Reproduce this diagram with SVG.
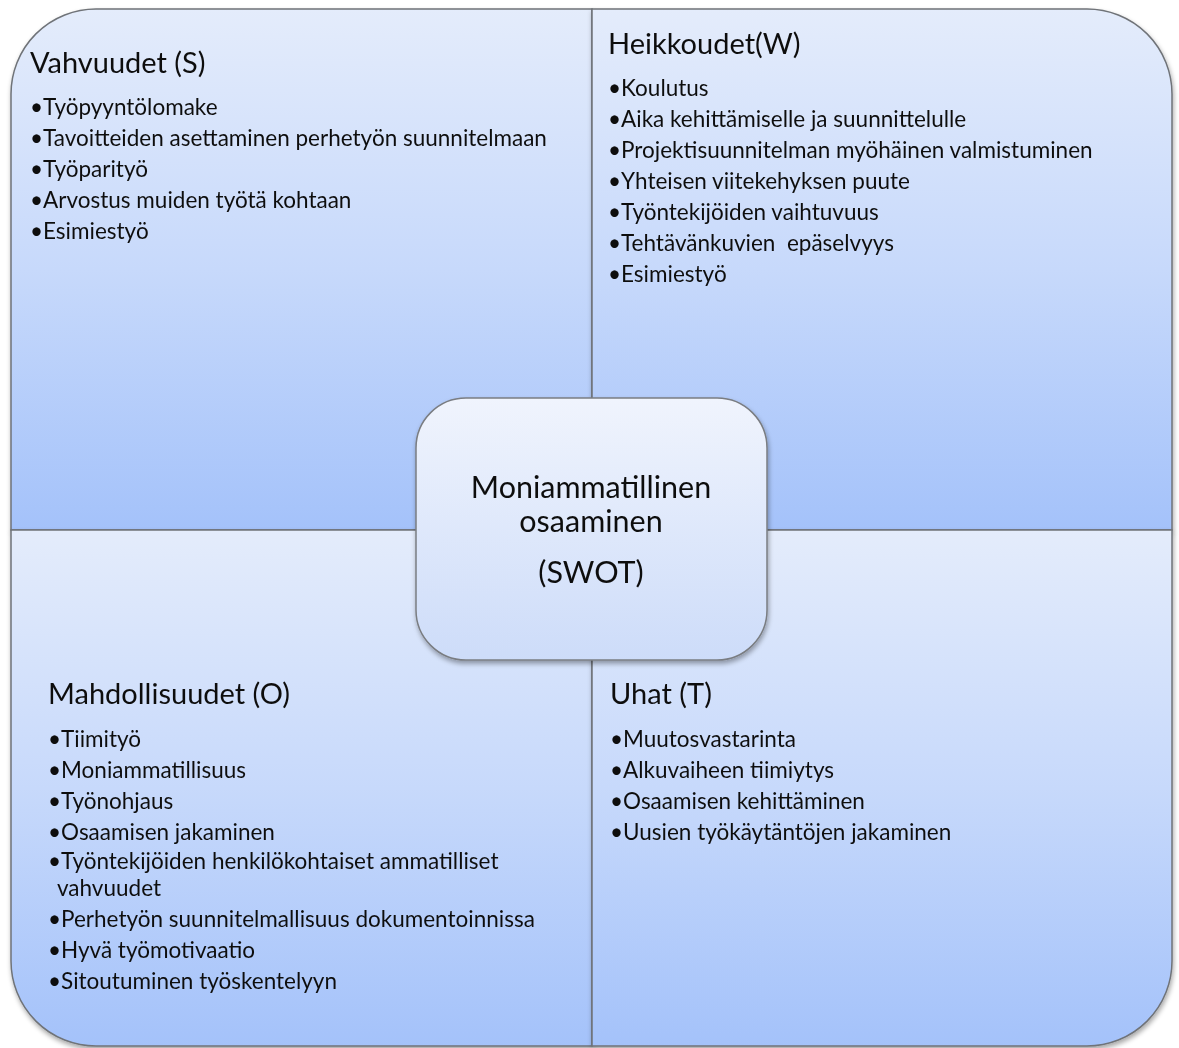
<svg xmlns="http://www.w3.org/2000/svg" width="1179" height="1048" viewBox="0 0 1179 1048">
<defs>
<linearGradient id="qg" x1="0" y1="0" x2="0" y2="1">
<stop offset="0" stop-color="#e4ecfb"/>
<stop offset="0.5" stop-color="#c7d9fb"/>
<stop offset="1" stop-color="#a4c2fa"/>
</linearGradient>
<linearGradient id="cg" x1="0" y1="0" x2="0" y2="1">
<stop offset="0" stop-color="#f0f4fd"/>
<stop offset="1" stop-color="#cddcf9"/>
</linearGradient>
<filter id="sh" x="-5%" y="-5%" width="110%" height="112%">
<feGaussianBlur in="SourceAlpha" stdDeviation="2.5"/>
<feOffset dx="1" dy="3"/>
<feComponentTransfer><feFuncA type="linear" slope="0.35"/></feComponentTransfer>
<feMerge><feMergeNode/><feMergeNode in="SourceGraphic"/></feMerge>
</filter>
</defs>
<style>
.q{fill:url(#qg);stroke:#6f7378;stroke-width:1.5}
.c{fill:url(#cg);stroke:#7a7d82;stroke-width:1.5}
.h{font-family:Lato,"Open Sans","Liberation Sans",sans-serif;font-size:29px;fill:#111}
.t{font-family:Lato,"Open Sans","Liberation Sans",sans-serif;font-size:22.5px;fill:#111}
.m{font-family:Lato,"Open Sans","Liberation Sans",sans-serif;font-size:30.5px;fill:#111;text-anchor:middle}
</style>
<g id="strengths" filter="url(#sh)">
<path class="q" d="M11,530 V94 A85,85 0 0 1 96,9 H592 V530 Z"/>
<text class="h" x="30" y="73">Vahvuudet (S)</text>
<text class="t" x="30" y="115">•Työpyyntölomake</text>
<text class="t" x="30" y="146">•Tavoitteiden asettaminen perhetyön suunnitelmaan</text>
<text class="t" x="30" y="177">•Työparityö</text>
<text class="t" x="30" y="208">•Arvostus muiden työtä kohtaan</text>
<text class="t" x="30" y="239">•Esimiestyö</text>
</g>
<g id="weaknesses" filter="url(#sh)">
<path class="q" d="M592,9 H1087 A85,85 0 0 1 1172,94 V530 H592 Z"/>
<text class="h" x="608" y="54">Heikkoudet(W)</text>
<text class="t" x="608" y="96">•Koulutus</text>
<text class="t" x="608" y="127">•Aika kehittämiselle ja suunnittelulle</text>
<text class="t" x="608" y="158">•Projektisuunnitelman myöhäinen valmistuminen</text>
<text class="t" x="608" y="189">•Yhteisen viitekehyksen puute</text>
<text class="t" x="608" y="220">•Työntekijöiden vaihtuvuus</text>
<text class="t" x="608" y="251" xml:space="preserve">•Tehtävänkuvien  epäselvyys</text>
<text class="t" x="608" y="282">•Esimiestyö</text>
</g>
<g id="opportunities" filter="url(#sh)">
<path class="q" d="M11,530 H592 V1046 H96 A85,85 0 0 1 11,961 Z"/>
<text class="h" x="48" y="704">Mahdollisuudet (O)</text>
<text class="t" x="48" y="747">•Tiimityö</text>
<text class="t" x="48" y="778">•Moniammatillisuus</text>
<text class="t" x="48" y="809">•Työnohjaus</text>
<text class="t" x="48" y="840">•Osaamisen jakaminen</text>
<text class="t" x="48" y="869">•Työntekijöiden henkilökohtaiset ammatilliset</text>
<text class="t" x="57" y="896">vahvuudet</text>
<text class="t" x="48" y="927">•Perhetyön suunnitelmallisuus dokumentoinnissa</text>
<text class="t" x="48" y="958">•Hyvä työmotivaatio</text>
<text class="t" x="48" y="989">•Sitoutuminen työskentelyyn</text>
</g>
<g id="threats" filter="url(#sh)">
<path class="q" d="M592,530 H1172 V961 A85,85 0 0 1 1087,1046 H592 Z"/>
<text class="h" x="610" y="704">Uhat (T)</text>
<text class="t" x="610" y="747">•Muutosvastarinta</text>
<text class="t" x="610" y="778">•Alkuvaiheen tiimiytys</text>
<text class="t" x="610" y="809">•Osaamisen kehittäminen</text>
<text class="t" x="610" y="840">•Uusien työkäytäntöjen jakaminen</text>
</g>
<g id="connectors"></g>
<g id="center" filter="url(#sh)">
<rect class="c" x="416" y="398" width="351" height="262" rx="50" ry="50"/>
<text class="m" x="591" y="498">Moniammatillinen</text>
<text class="m" x="591" y="532">osaaminen</text>
<text class="m" x="591" y="583">(SWOT)</text>
</g>
</svg>
